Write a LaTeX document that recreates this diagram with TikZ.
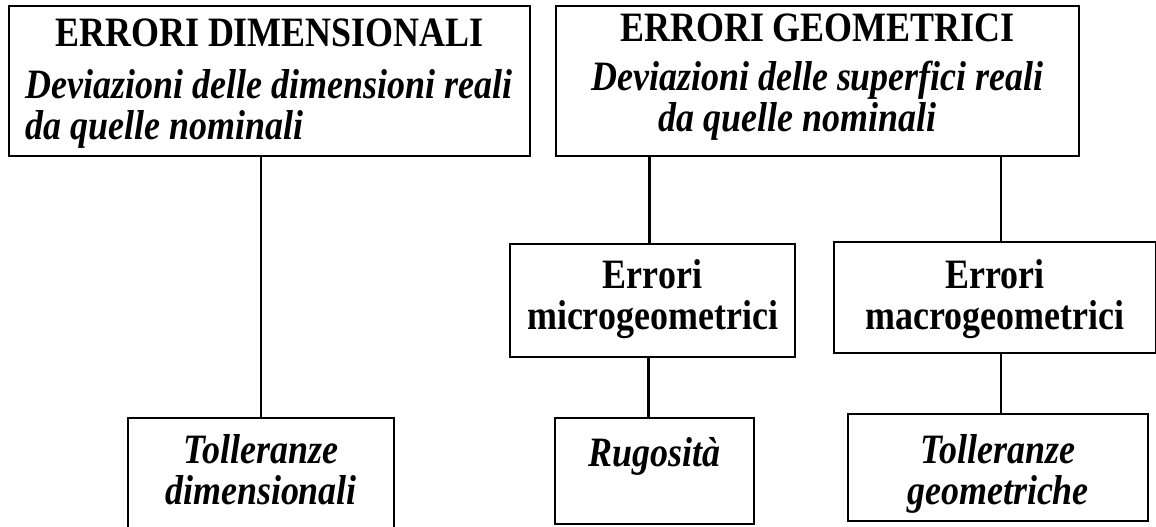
\documentclass[tikz,border=0pt]{standalone}
\usepackage{fontspec}
\setmainfont{Liberation Serif}[FakeStretch=0.86]

\begin{document}
\begin{tikzpicture}[
      x=0.02cm, y=-0.02cm,
      line width=1.2pt,
      box/.style={draw, anchor=north west, inner sep=0pt, align=center, font=\fontsize{23.8}{22.8}\selectfont\bfseries},
      link/.style={line width=1.2pt}
  ]
      \useasboundingbox (0,0) rectangle (1156,527);
      \clip (0,0) rectangle (1156,527);

      % Errori
      \node[box, align=left, minimum width=10.42cm, text height=2.66cm, text depth=0.34cm] (dim) at (8,5)
          {\makebox[9.75cm]{ERRORI DIMENSIONALI}\\[0.24cm]
           \itshape Deviazioni delle dimensioni reali\\
           \itshape da quelle nominali};
      \node[box, minimum width=10.46cm, text height=2.50cm, text depth=0.50cm] (geo) at (555,5)
          {ERRORI GEOMETRICI\\[0.18cm]
           \itshape Deviazioni delle superfici reali\\
           \itshape da quelle nominali\hspace*{0.8cm}};

      \node[box, minimum width=5.70cm, text height=1.70cm, text depth=0.56cm] (micro) at (509,243) {Errori\\microgeometrici};
      \node[box, minimum width=6.44cm, text height=1.74cm, text depth=0.48cm] (macro) at (833,241) {Errori\\macrogeometrici};

      % Tolleranze
      \node[box, minimum width=5.32cm, text height=1.72cm, text depth=0.64cm] (toldim) at (127,417) {\itshape Tolleranze\\\itshape dimensionali};
      \node[box, minimum width=3.98cm, text height=0.96cm, text depth=1.16cm] (rug) at (554,417) {\itshape Rugosità};
      \node[box, minimum width=6.00cm, text height=1.80cm, text depth=0.34cm] (tolgeo) at (847,413) {\itshape Tolleranze\\\itshape geometriche};

      % Collegamenti
      \draw[link] (toldim.north) -- (toldim.north |- dim.south);
      \draw[link] ([xshift=-0.06cm]micro.north) -- ([xshift=-0.06cm]micro.north |- geo.south);
      \draw[link] ([xshift=0.12cm]macro.north) -- ([xshift=0.12cm]macro.north |- geo.south);
      \draw[link] ([xshift=-0.12cm]rug.north) -- ([xshift=-0.12cm]rug.north |- micro.south);
      \draw[link] ([xshift=0.06cm]tolgeo.north) -- ([xshift=0.06cm]tolgeo.north |- macro.south);

  \end{tikzpicture}
\end{document}
